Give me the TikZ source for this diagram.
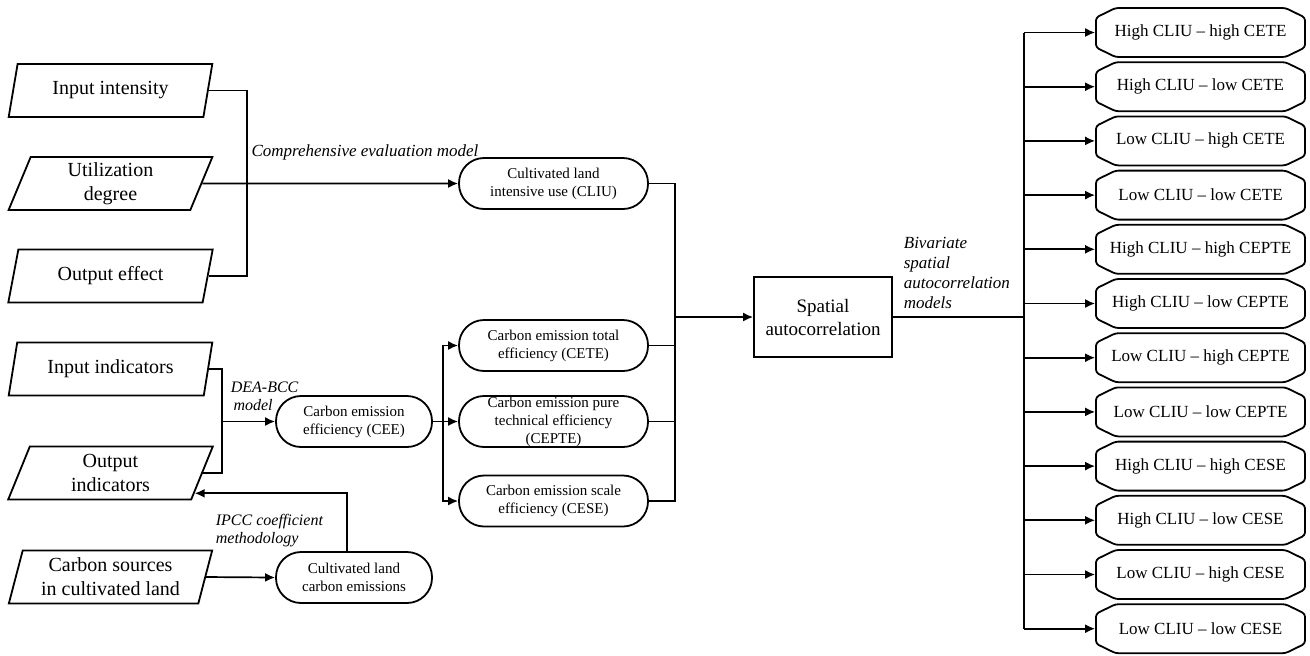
\documentclass[tikz,border=0pt]{standalone}
\usepackage{fontspec}
\setmainfont{Liberation Serif}
\usetikzlibrary{arrows.meta,shapes.geometric,shapes.misc,calc}

\begin{document}
\begin{tikzpicture}[x=0.5pt,y=-0.5pt,line width=0.85pt,
    flecha/.style={-{Latex[length=5pt,width=4.5pt]}},
    entrada/.style={draw,line width=0.9pt,trapezium,trapezium left angle=75,trapezium right angle=105,
        trapezium stretches=true,minimum width=102.5pt,minimum height=26.5pt,inner sep=1pt,
        align=center,font=\fontsize{10}{12}\selectfont},
    redondo/.style={draw,line width=0.9pt,rounded corners=12.5pt,minimum height=25.5pt,inner sep=1pt,
        align=center,font=\fontsize{7.5}{9}\selectfont},
    caja/.style={draw,line width=0.9pt,minimum width=69pt,minimum height=40pt,align=center,
        font=\fontsize{9.5}{11.5}\selectfont},
    tipo/.style={draw,line width=0.9pt,chamfered rectangle,chamfered rectangle angle=64,
        chamfered rectangle xsep=3.5pt,rounded corners=1.5pt,minimum width=104.5pt,minimum height=24.5pt,
        inner sep=0pt,font=\fontsize{8.5}{10}\selectfont},
    etiqueta/.style={font=\itshape\fontsize{8.5}{10}\selectfont,align=left,inner sep=0pt}]

    % marco
    \useasboundingbox (0,0) rectangle (1310,655);

    % Entradas
    \node[entrada] (inint)  at (110.5,90.5) {Input intensity};
    \node[entrada] (utdeg)  at (110.5,183.5) {Utilization\\degree};
    \node[entrada] (outeff) at (110.5,276) {Output effect};
    \node[entrada] (inind)  at (110.5,369) {Input indicators};
    \node[entrada] (outind) at (110.5,473) {Output\\indicators};
    \node[entrada] (csrc)   at (110.5,577) {Carbon sources\\in cultivated land};

    % Nodos redondeados
    \node[redondo,minimum width=94.5pt] (cliu)  at (553.5,183.5) {Cultivated land\\intensive use (CLIU)};
    \node[redondo,minimum width=94.5pt] (cete)  at (553.5,345.5) {Carbon emission total\\efficiency (CETE)};
    \node[redondo,minimum width=94.5pt,inner ysep=0pt] (cepte) at (553.5,421.5) {Carbon emission pure\\technical efficiency\\(CEPTE)};
    \node[redondo,minimum width=94.5pt] (cese)  at (553.5,501) {Carbon emission scale\\efficiency (CESE)};
    \node[redondo,minimum width=78pt] (cee)  at (354,421.5) {Carbon emission\\efficiency (CEE)};
    \node[redondo,minimum width=78pt] (clce) at (354,577.5) {Cultivated land\\carbon emissions};

    % Autocorrelacion
    \node[caja] (spat) at (823,317) {Spatial\\autocorrelation};

    % Tipos de agrupamiento
    \foreach \txt [count=\i] in {High CLIU -- high CETE,High CLIU -- low CETE,Low CLIU -- high CETE,
        Low CLIU -- low CETE,High CLIU -- high CEPTE,High CLIU -- low CEPTE,Low CLIU -- high CEPTE,
        Low CLIU -- low CEPTE,High CLIU -- high CESE,High CLIU -- low CESE,Low CLIU -- high CESE,
        Low CLIU -- low CESE}
        \node[tipo] (r\i) at (1200.5,{32.5+54.2*(\i-1)}) {\txt};

    % Puntos de union
    \coordinate (j1) at (247,183.5);
    \coordinate (j2) at (222,421.5);
    \coordinate (j3) at (443,421.5);
    \coordinate (j4) at (675,317);
    \coordinate (j5) at (1024,317);

    % Conectores
    \draw (inint.east) -| (j1) |- (outeff.east);
    \draw[flecha] (utdeg.east) -- (cliu.west);
    \draw (inind.east) -| (j2) |- (outind.east);
    \draw[flecha] (j2) -- (cee.west);
    \draw (cee.east) -- (j3);
    \draw[flecha] (j3) |- (cete.west);
    \draw[flecha] (j3) -- (cepte.west);
    \draw[flecha] (j3) |- (cese.west);
    \draw[flecha] (csrc.east) -- (clce.west);
    \draw[flecha] ([xshift=-3.5pt]clce.north) |- ($(outind.bottom right corner)!0.13!(outind.top right corner)$);
    \draw (cliu.east) -| (j4) |- (cese.east);
    \draw (cete.east) -- (cete.east -| j4);
    \draw (cepte.east) -- (cepte.east -| j4);
    \draw[flecha] (j4) -- (spat.west);
    \draw (spat.east) -- (j5);
    \draw (j5 |- r1.west) -- (j5 |- r12.west);
    \foreach \i in {1,...,12}
        \draw[flecha] (j5 |- r\i.west) -- (r\i.west);

    % Etiquetas
    \node[etiqueta] (lcomp) at (365,152) {Comprehensive evaluation model};
    \node[etiqueta,anchor=west,font=\itshape\fontsize{8}{9}\selectfont] (ldea) at (230,396) {DEA-BCC\\\,model};
    \node[etiqueta,anchor=west,font=\itshape\fontsize{8}{9}\selectfont] (lipcc) at (215,531) {IPCC coefficient\\methodology};
    \node[etiqueta,anchor=west] (lbiv) at (903,273) {Bivariate\\spatial\\autocorrelation\\models};
\end{tikzpicture}
\end{document}
